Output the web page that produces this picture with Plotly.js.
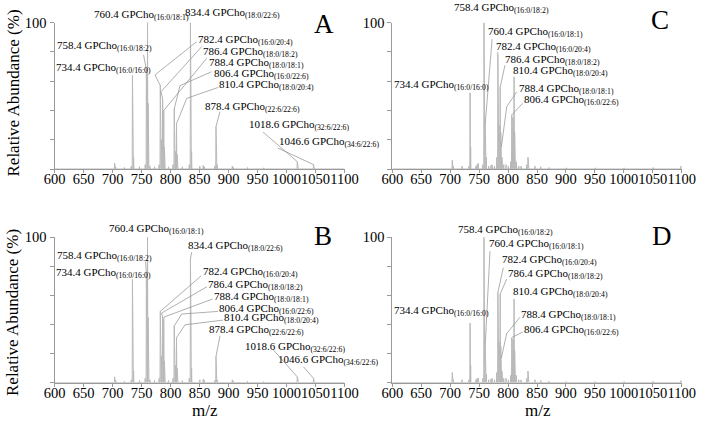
<!DOCTYPE html>
<html><head><meta charset="utf-8">
<script src="https://cdn.plot.ly/plotly-3.0.1.min.js"></script>
<style>html,body{margin:0;padding:0;background:#fff}</style>
</head><body><div id="chart" style="width:703px;height:423px"></div>
<script>
// ---------- DATA ----------
const mzAB = [703.6,705.5,720.5,732.4,734.4,735.4,736.4,746.5,756.4,758.4,759.4,760.4,761.4,762.4,764.5,772.5,780.4,782.4,783.4,784.4,786.4,787.4,788.4,789.4,790.4,796.5,804.4,806.4,807.4,808.4,810.4,811.4,812.4,820.5,832.4,834.4,835.4,836.4,850.5,856.5,858.5,876.4,878.4,879.4,880.4,906.6,908.6,932.6,960.6,1018.6,1019.6,1046.6,1047.6];
const intA = [4,1.5,1,2,64,28,8,1.5,3,68,30,100,45,12,2,1.5,3,57,25,20,48,22,40,15,5,1.5,3,41,18,12,31,10,4,1.5,3,99,45,12,2,2.5,1.5,2,29,12,3,2,1,1,0.8,5,3,3,2];
const intB = [4,1.5,1,2,71,30,8,1.5,3,74,32,100,45,12,2,1.5,3,49,22,18,45,20,43,15,5,1.5,3,39,17,12,31,10,4,1.5,3,85,38,10,2,2.5,1.5,1.5,18,7,2,2,1,1,0.8,4,2.5,3,2];
const mzCD = [703.6,705.5,720.5,732.4,734.4,735.4,744.5,746.5,748.5,756.4,758.4,759.4,760.4,761.4,762.4,766.5,770.5,772.5,776.5,780.4,782.4,783.4,784.4,785.4,786.4,787.4,788.4,789.4,790.4,792.5,796.5,800.5,804.4,806.4,807.4,808.4,809.4,810.4,811.4,812.4,814.4,818.5,822.5,832.4,834.4,835.4,846.5,856.5,870.5,900.6,950.6,1000.6,1050.7,1098.7];
const intC = [6,2,2,2,52,15,2,3,4,3,100,40,30,15,8,2,2.5,3,2,8,78,35,30,20,56,25,15,8,4,3,3,2,5,37,20,35,25,63,25,10,5,2,2,3,8,3,2,1.5,1,0.8,0.8,0.8,1,2];
const intD = [7,2,2,2,41,12,2,3,3,3,100,40,24.5,12,6,2,2.5,3,2,7,62,30,28,18,61,25,17,8,4,3,3,2,5,31,18,30,20,57.5,22,10,5,2,2,3,8,3,2,1.5,1,0.8,0.8,0.8,1,1.5];

const labMzAB = [760.4,834.4,758.4,734.4,782.4,786.4,788.4,806.4,810.4,878.4,1018.6,1046.6];
const labMzCD = [758.4,760.4,782.4,786.4,810.4,734.4,788.4,806.4];
const speciesMz = [734.4,758.4,760.4,782.4,786.4,788.4,806.4,810.4,834.4,878.4,1018.6,1046.6];
const speciesTxt = ['16:0/16:0','16:0/18:2','16:0/18:1','16:0/20:4','18:0/18:2','18:0/18:1','16:0/22:6','18:0/20:4','18:0/22:6','22:6/22:6','32:6/22:6','34:6/22:6'];
const xTicks = [600,650,700,750,800,850,900,950,1000,1050,1100];
const yTicks = [0,20,40,60,80,100];
const yTickText = ['','','','','','100'];

// ---------- LAYOUT (label placement, in axis units) ----------
const labPos = {
 A:[[665.9,105.3],[823.3,106.4],[602.6,84.1],[600.9,69],[845.7,88.2],[854.3,80],[864.7,72.5],[873.3,64.9],[881.9,57.4],[857.8,42.4],[933.6,30],[985.3,18.5]],
 B:[[692.8,105.3],[827.9,93.8],[602.6,86.9],[600.9,75.4],[853.8,75.9],[863.4,67.4],[872.8,58.9],[882.4,50.6],[891,44.4],[865.2,35.9],[927.2,24.8],[983.1,15.7]],
 C:[[704.4,109.8],[763.1,93.4],[777.4,83.6],[793,74.5],[806.3,67.2],[601.7,57.4],[816.7,54.5],[825.3,47.2]],
 D:[[712.3,105.2],[765.9,95.4],[787.3,84.1],[797.7,74.6],[807.3,62],[601.7,49.6],[820.6,46.8],[825.3,36.4]]
};
const leaders = {
 A:[[760.4,[[760.7,101.8]]],[834.4,[[834.1,103.2]]],[758.4,[[753.5,78]]],[782.4,[[845,87],[773.3,64.3]]],[786.4,[[853.8,83.6],[783.6,52.8]]],[788.4,[[862.4,75.7]]],[806.4,[[871,66.5],[816.4,57]]],[810.4,[[882.4,55.8],[828,48.3]]],[878.4,[[885.3,39.2]]],[1018.6,[[959.5,25.3]]],[1046.6,[[984.8,14.4]]]],
 B:[[760.4,[[760.7,101.9]]],[834.4,[[836.5,89.7]]],[758.4,[[757.2,83.4]]],[782.4,[[853,73.5]]],[786.4,[[863,66],[784.8,47.9]]],[788.4,[[872.5,57.5],[788.8,45.1]]],[806.4,[[882,49],[819.3,47.2]]],[810.4,[[890.5,43],[825,39.8]]],[878.4,[[885.3,32.2]]],[1018.6,[[977.2,22.6]]],[1046.6,[[1029,11]]]],
 C:[[758.4,[[758.4,105]]],[760.4,[[772.4,88.7]]],[782.4,[[782.2,80]]],[786.4,[[794.7,71]]],[788.4,[[815,52.8],[797.7,42.6]]],[806.4,[[825.3,44.9]]]],
 D:[[758.4,[[758.4,101]]],[760.4,[[768.8,90.3]]],[782.4,[[791.8,79]]],[786.4,[[797.6,71.2]]],[788.4,[[820.6,45],[797.6,33.7]]],[806.4,[[825.3,34.8],[808,31.4]]]]
};

const FONT = 'Liberation Serif';
const W = 703, H = 423;
const panels = [
 {id:'A', xa:'x',  ya:'y',  mz:mzAB, it:intA, labs:labMzAB, xd:[54.5,344.5], yd:[169,22.7], letter:[324,24]},
 {id:'C', xa:'x2', ya:'y2', mz:mzCD, it:intC, labs:labMzCD, xd:[392.3,681.7], yd:[169,22.7], letter:[660,20]},
 {id:'B', xa:'x3', ya:'y3', mz:mzAB, it:intB, labs:labMzAB, xd:[54.5,344.5], yd:[382.7,237.2], letter:[323,236]},
 {id:'D', xa:'x4', ya:'y4', mz:mzCD, it:intD, labs:labMzCD, xd:[392.3,681.7], yd:[382.7,237.2], letter:[662,236]}
];

const traces = [], shapes = [], annotations = [];
const layout = {width:W, height:H, margin:{l:0,r:0,t:0,b:0}, showlegend:false,
  paper_bgcolor:'#fff', plot_bgcolor:'#fff', font:{family:FONT, color:'#000'}};
const axColor = '#9a9a9a';

panels.forEach((p,i)=>{
  const xs=[xTicks[0]], ys=[0];
  p.mz.forEach((m,k)=>{ xs.push(m-0.45,m,m+0.45); ys.push(0,p.it[k],0); });
  xs.push(xTicks[xTicks.length-1]); ys.push(0);
  traces.push({type:'scatter', mode:'lines', x:xs, y:ys, xaxis:p.xa, yaxis:p.ya,
    line:{color:'#b8b8b8', width:1}, hoverinfo:'skip'});
  const sfx = i===0 ? '' : String(i+1);
  layout['xaxis'+sfx] = {domain:[p.xd[0]/W, p.xd[1]/W], anchor:p.ya, range:[600,1100],
    tickvals:xTicks, ticktext:xTicks.map(String), tickangle:0, ticks:'outside', ticklen:3, tickcolor:axColor,
    showline:true, linecolor:axColor, linewidth:1, showgrid:false, zeroline:false, ticklabelstandoff:-6,
    tickfont:{family:FONT, size:14.5, color:'#000'}};
  layout['yaxis'+sfx] = {domain:[1-p.yd[0]/H, 1-p.yd[1]/H], anchor:p.xa, range:[0,100],
    tickvals:yTicks, ticktext:yTickText, ticks:'outside', ticklen:4, tickcolor:axColor,
    showline:true, linecolor:axColor, linewidth:1, showgrid:false, zeroline:false,
    tickfont:{family:FONT, size:14.5, color:'#000'}};
  const ydom = p.ya + ' domain';
  p.labs.forEach((m,k)=>{
    const sp = speciesTxt[speciesMz.indexOf(m)];
    const pos = labPos[p.id][k];
    annotations.push({xref:p.xa, yref:ydom, x:pos[0], y:pos[1]/100, xanchor:'left', yanchor:'middle',
      showarrow:false, borderpad:0, text: m.toFixed(1)+' GPCho<sub>('+sp+')</sub>',
      font:{family:FONT, size:11, color:'#000'}});
  });
  leaders[p.id].forEach(([m,pts])=>{
    const k = p.mz.indexOf(m);
    const all = pts.concat([[m, p.it[k]]]);
    const path = all.map((q,j)=>(j?'L':'M')+q[0]+','+q[1]).join(' ');
    shapes.push({type:'path', xref:p.xa, yref:p.ya, path:path, line:{color:'#8c8c8c', width:0.7}});
  });
  annotations.push({xref:'paper', yref:'paper', x:p.letter[0]/W, y:1-p.letter[1]/H, xanchor:'center', yanchor:'middle',
    showarrow:false, text:p.id, font:{family:FONT, size:27, color:'#000'}});
});
[[12.5,93],[12.5,312.5]].forEach(c=>annotations.push({xref:'paper',yref:'paper',x:c[0]/W,y:1-c[1]/H,
  xanchor:'center',yanchor:'middle',textangle:-90,showarrow:false,text:'Relative Abundance (%)',
  font:{family:FONT,size:17,color:'#000'}}));
[[205,410],[538,410]].forEach(c=>annotations.push({xref:'paper',yref:'paper',x:c[0]/W,y:1-c[1]/H,
  xanchor:'center',yanchor:'middle',showarrow:false,text:'m/z',font:{family:FONT,size:17,color:'#000'}}));

layout.shapes = shapes; layout.annotations = annotations;
Plotly.newPlot('chart', traces, layout, {staticPlot:true, displayModeBar:false});
</script></body></html>
